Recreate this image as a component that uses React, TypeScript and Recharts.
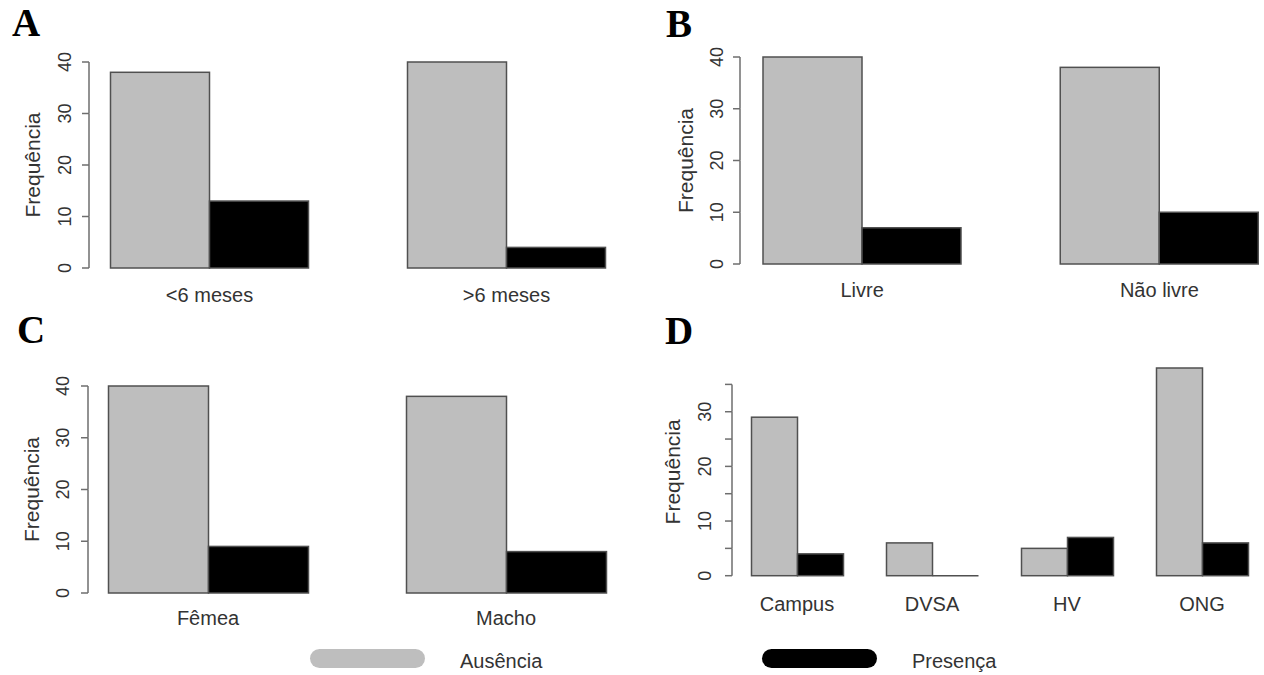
import React from 'react';
import { BarChart, Bar, XAxis, YAxis } from 'recharts';

// ---------- data ----------
const SERIES = ['Ausência', 'Presença'];
const COLORS = ['#bebebe', '#000000'];

const idadeCategories = ['<6 meses', '>6 meses'];
const idadeAusencia = [38, 40];
const idadePresenca = [13, 4];

const acessoCategories = ['Livre', 'Não livre'];
const acessoAusencia = [40, 38];
const acessoPresenca = [7, 10];

const sexoCategories = ['Fêmea', 'Macho'];
const sexoAusencia = [40, 38];
const sexoPresenca = [9, 8];

const origemCategories = ['Campus', 'DVSA', 'HV', 'ONG'];
const origemAusencia = [29, 6, 5, 38];
const origemPresenca = [4, 0, 7, 6];

const ticks40 = [0, 10, 20, 30, 40];
const ticks35 = [0, 5, 10, 15, 20, 25, 30, 35];
const labels35 = [0, 10, 20, 30];

const panelLetters = ['A', 'B', 'C', 'D'];
const yTitle = 'Frequência';

// ---------- styles ----------
const FONT = '"Liberation Sans", Arial, sans-serif';
const TEXT = '#333333';
const AXIS = '#6e6e6e';
const BAR_STROKE = '#505050';
const Y_WIDTH = 40;
const X_HEIGHT = 30;
const TICK_LEN = 7;

const toRows = (cats: string[], a: number[], p: number[]) =>
  cats.map((c, i) => ({ category: c, ausencia: a[i], presenca: p[i] }));

const BarShape = (props: any) => {
  const { x, y, width, height, fill } = props;
  if (!height) {
    return <line x1={x} x2={x + width} y1={y} y2={y} stroke={BAR_STROKE} strokeWidth={1.5} />;
  }
  return <rect x={x} y={y} width={width} height={height} fill={fill} stroke={BAR_STROKE} strokeWidth={1.5} />;
};

type PanelProps = {
  left: number;
  top: number;
  width: number;
  height: number;
  margin: { top: number; right: number; bottom: number; left: number };
  padLeft: number;
  categories: string[];
  ausencia: number[];
  presenca: number[];
  ticks: number[];
  labelTicks: number[];
  tickOffset: number;
  yLabelX: number;
  catDy: number;
  gap: number;
};

const Panel = (p: PanelProps) => {
  const rows = toRows(p.categories, p.ausencia, p.presenca);
  const dataMax = Math.max(...p.ausencia, ...p.presenca);
  const plotH = p.height - p.margin.top - p.margin.bottom - X_HEIGHT;
  const pxPerUnit = plotH / dataMax;
  const axisX = p.margin.left + Y_WIDTH;
  const step = p.ticks[1] - p.ticks[0];
  const lastTick = p.ticks[p.ticks.length - 1];

  const YTick = (tp: any) => {
    const { y, payload } = tp;
    const v = payload.value;
    const cx = axisX - p.tickOffset;
    return (
      <g>
        {v < lastTick ? (
          <line x1={axisX} x2={axisX} y1={y} y2={y - step * pxPerUnit} stroke={AXIS} strokeWidth={1.5} />
        ) : null}
        <line x1={axisX - TICK_LEN} x2={axisX} y1={y} y2={y} stroke={AXIS} strokeWidth={1.5} />
        {p.labelTicks.includes(v) ? (
          <text
            x={cx}
            y={y}
            transform={`rotate(-90, ${cx}, ${y})`}
            textAnchor="middle"
            dominantBaseline="central"
            fontFamily={FONT}
            fontSize={18}
            fill={TEXT}
          >
            {v}
          </text>
        ) : null}
      </g>
    );
  };

  const XTick = (tp: any) => {
    const { x, y, payload } = tp;
    return (
      <text
        x={x}
        y={y + p.catDy}
        textAnchor="middle"
        dominantBaseline="central"
        fontFamily={FONT}
        fontSize={20}
        fill={TEXT}
      >
        {payload.value}
      </text>
    );
  };

  const yCenter = p.margin.top + plotH / 2;
  const YTitle = () => (
    <text
      x={p.yLabelX}
      y={yCenter}
      transform={`rotate(-90, ${p.yLabelX}, ${yCenter})`}
      textAnchor="middle"
      dominantBaseline="central"
      fontFamily={FONT}
      fontSize={21}
      fill={TEXT}
    >
      {yTitle}
    </text>
  );

  return (
    <div style={{ position: 'absolute', left: p.left, top: p.top }}>
      <BarChart
        width={p.width}
        height={p.height}
        data={rows}
        margin={p.margin}
        barGap={0}
        barCategoryGap={p.gap}
      >
        <XAxis
          dataKey="category"
          height={X_HEIGHT}
          padding={{ left: p.padLeft, right: 0 }}
          axisLine={false}
          tickLine={false}
          tickSize={0}
          tickMargin={0}
          interval={0}
          tick={XTick}
        />
        <YAxis
          type="number"
          width={Y_WIDTH}
          domain={[0, 'dataMax']}
          ticks={p.ticks}
          interval={0}
          axisLine={false}
          tickLine={false}
          tickSize={TICK_LEN}
          tickMargin={0}
          tick={YTick}
          label={YTitle}
        />
        <Bar dataKey="ausencia" name={SERIES[0]} fill={COLORS[0]} shape={BarShape} isAnimationActive={false} />
        <Bar dataKey="presenca" name={SERIES[1]} fill={COLORS[1]} shape={BarShape} isAnimationActive={false} />
      </BarChart>
    </div>
  );
};

const letterPos = [
  { x: 12, y: 36 },
  { x: 666, y: 37 },
  { x: 17, y: 343 },
  { x: 665, y: 344 },
];

export default function App() {
  return (
    <div
      style={{
        position: 'absolute',
        left: 0,
        top: 0,
        width: 1264,
        height: 675,
        overflow: 'hidden',
        background: '#ffffff',
      }}
    >
      <Panel
        left={0}
        top={0}
        width={660}
        height={310}
        margin={{ top: 62, right: 5, bottom: 12, left: 49 }}
        padLeft={-28}
        categories={idadeCategories}
        ausencia={idadeAusencia}
        presenca={idadePresenca}
        ticks={ticks40}
        labelTicks={ticks40}
        tickOffset={24}
        yLabelX={32}
        catDy={27}
        gap={49.5}
      />
      <Panel
        left={640}
        top={0}
        width={700}
        height={310}
        margin={{ top: 57, right: 32, bottom: 16, left: 60 }}
        padLeft={-26.5}
        categories={acessoCategories}
        ausencia={acessoAusencia}
        presenca={acessoPresenca}
        ticks={ticks40}
        labelTicks={ticks40}
        tickOffset={23}
        yLabelX={45}
        catDy={26}
        gap={49.5}
      />
      <Panel
        left={0}
        top={310}
        width={660}
        height={330}
        margin={{ top: 76, right: 5, bottom: 17, left: 48 }}
        padLeft={-29}
        categories={sexoCategories}
        ausencia={sexoAusencia}
        presenca={sexoPresenca}
        ticks={ticks40}
        labelTicks={ticks40}
        tickOffset={25}
        yLabelX={31}
        catDy={25}
        gap={49.5}
      />
      <Panel
        left={640}
        top={310}
        width={640}
        height={330}
        margin={{ top: 58, right: 10.5, bottom: 34.3, left: 52 }}
        padLeft={-2.5}
        categories={origemCategories}
        ausencia={origemAusencia}
        presenca={origemPresenca}
        ticks={ticks35}
        labelTicks={labels35}
        tickOffset={27}
        yLabelX={33}
        catDy={28}
        gap={22}
      />
      <svg
        width={1264}
        height={675}
        style={{ position: 'absolute', left: 0, top: 0, pointerEvents: 'none' }}
      >
        {panelLetters.map((l, i) => (
          <text
            key={l}
            x={letterPos[i].x}
            y={letterPos[i].y}
            fontFamily='"Liberation Serif", "Times New Roman", serif'
            fontWeight="bold"
            fontSize={39}
            fill="#000"
          >
            {l}
          </text>
        ))}
        <rect x={310} y={649} width={115} height={19} rx={9.5} fill={COLORS[0]} />
        <text x={460} y={661} dominantBaseline="central" fontFamily={FONT} fontSize={20} fill={TEXT}>
          {SERIES[0]}
        </text>
        <rect x={762} y={649} width={115} height={19} rx={9.5} fill={COLORS[1]} />
        <text x={912} y={661} dominantBaseline="central" fontFamily={FONT} fontSize={20} fill={TEXT}>
          {SERIES[1]}
        </text>
      </svg>
    </div>
  );
}
